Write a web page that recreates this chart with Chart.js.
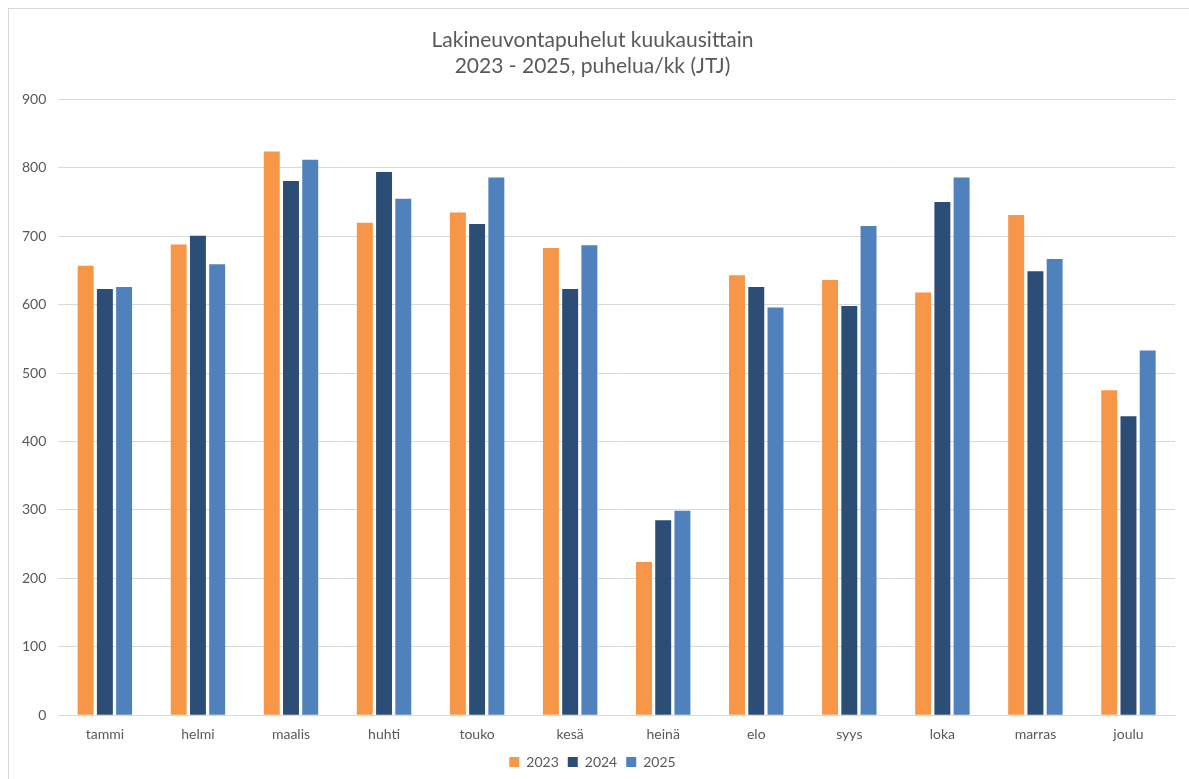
<!DOCTYPE html>
<html>
<head>
<meta charset="utf-8">
<script src="https://cdn.jsdelivr.net/npm/chart.js@4/dist/chart.umd.min.js"></script>
<style>
  html, body { margin: 0; padding: 0; background: #fff; }
  #frame { position: absolute; left: 8px; top: 8px; width: 1200px; height: 800px; border: 1px solid #d9d9d9; }
  #wrap { position: absolute; left: 0; top: 0; width: 1189px; height: 779px; }
</style>
</head>
<body>
<div id="frame"></div>
<div id="wrap"><canvas id="chart"></canvas></div>
<script>
const months = ["tammi", "helmi", "maalis", "huhti", "touko", "kesä", "heinä", "elo", "syys", "loka", "marras", "joulu"];
const calls2023 = [657, 688, 824, 720, 735, 683, 224, 643, 636, 618, 731, 475];
const calls2024 = [623, 701, 781, 794, 718, 623, 285, 626, 598, 750, 649, 437];
const calls2025 = [626, 659, 812, 755, 786, 687, 299, 596, 715, 786, 667, 533];
const titleLines = ["Lakineuvontapuhelut kuukausittain", "2023 - 2025, puhelua/kk (JTJ)"];

const grey = "#595959";
Chart.defaults.font.family = "Lato, 'Open Sans', sans-serif";
Chart.defaults.color = grey;

const ctx = document.getElementById("chart").getContext("2d");
new Chart(ctx, {
  type: "bar",
  data: {
    labels: months,
    datasets: [
      { label: "2023", data: calls2023, backgroundColor: "#F79646" },
      { label: "2024", data: calls2024, backgroundColor: "#2C4D75" },
      { label: "2025", data: calls2025, backgroundColor: "#4F81BD" },
    ],
  },
  options: {
    responsive: true,
    maintainAspectRatio: false,
    animation: false,
    datasets: {
      bar: { categoryPercentage: 0.62, barPercentage: 0.83 },
    },
    layout: { padding: { left: 10, right: 14, top: 14, bottom: 0 } },
    plugins: {
      title: {
        display: true,
        text: titleLines,
        color: grey,
        font: { size: 21, weight: "normal", lineHeight: 1.25 },
        padding: { top: 13, bottom: 20 },
      },
      legend: {
        position: "bottom",
        labels: { boxWidth: 10, boxHeight: 10, padding: 9, color: grey, font: { size: 14 } },
      },
      tooltip: { enabled: false },
    },
    scales: {
      x: {
        grid: { display: false },
        border: { color: "#d9d9d9" },
        ticks: { color: grey, font: { size: 14 }, padding: 3 },
      },
      y: {
        min: 0,
        max: 900,
        ticks: { stepSize: 100, color: grey, font: { size: 14 }, padding: 12 },
        grid: { color: "#d9d9d9", drawTicks: false },
        border: { display: false },
      },
    },
  },
});
</script>
</body>
</html>
